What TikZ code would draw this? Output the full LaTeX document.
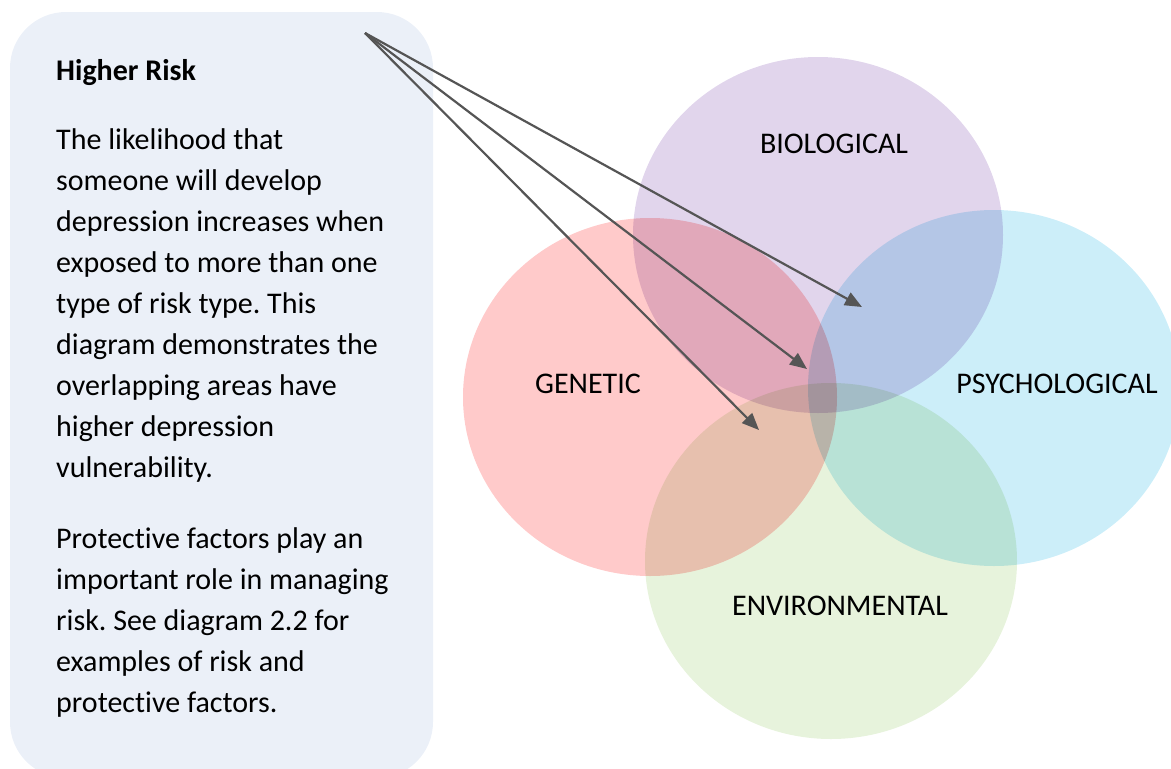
\documentclass[tikz,border=0pt]{standalone}
\usepackage{fontspec}
\setmainfont[Ligatures=CommonOff]{Carlito}
\frenchspacing
\usetikzlibrary{arrows.meta, positioning}
\definecolor{panelblue}{RGB}{235,240,248}
\definecolor{genpink}{RGB}{255,202,202}
\definecolor{biolilac}{RGB}{225,213,236}
\definecolor{psyblue}{RGB}{204,238,249}
\definecolor{envgreen}{RGB}{231,243,220}
\definecolor{arrowgray}{RGB}{85,85,85}

\begin{document}
\begin{tikzpicture}[x=1pt, y=-1pt,
  ptext/.style={font=\fontsize{30}{41}\selectfont, align=left, anchor=base west, inner sep=0pt},
  vlabel/.style={font=\fontsize{30}{36}\selectfont, anchor=base, inner sep=0pt},
  venn/.style={blend mode=multiply},
  riskarrow/.style={draw=arrowgray, line width=2.2pt, -{Triangle[length=17pt, width=14pt]}}
]
  \useasboundingbox (0,0) rectangle (1171,769);
  \clip (0,0) rectangle (1171,769);

  % side panel (multi-line nodes sit on their last baseline)
  \fill[panelblue, rounded corners=56pt] (10,12) rectangle (433,778);
  \node[ptext, font=\fontsize{30}{41}\selectfont\bfseries] (head) at (56,80) {Higher Risk};
  \node[ptext] (para1) at (56,477) {The likelihood that\\ someone will develop\\ depression increases when\\
    exposed to more than one\\ type of risk type. This\\ diagram demonstrates the\\ overlapping areas have\\
    higher depression\\ vulnerability.};
  \node[ptext] (para2) at (56,712) {Protective factors play an\\ important role in managing\\
    risk. See diagram 2.2 for\\ examples of risk and\\ protective factors.};

  % the four risk areas
  \fill[venn, genpink]  (650,397) ellipse [x radius=187pt, y radius=179pt];
  \fill[venn, biolilac] (818,235) ellipse [x radius=185pt, y radius=178pt];
  \fill[venn, psyblue]  (994,388) ellipse [x radius=186pt, y radius=178pt];
  \fill[venn, envgreen] (831,561) ellipse [x radius=186pt, y radius=178pt];

  \node[vlabel] (bio) at (834,153) {BIOLOGICAL};
  \node[vlabel] (gen) at (588,393) {GENETIC};
  \node[vlabel] (psy) at (1057,393) {PSYCHOLOGICAL};
  \node[vlabel] (env) at (840,615) {ENVIRONMENTAL};

  % arrows into the overlaps
  \coordinate (src) at (365,33);
  \coordinate (bioPsy) at (862,307);
  \coordinate (core) at (807,369);
  \coordinate (genEnv) at (759,430);
  \draw[riskarrow] (src) -- (bioPsy);
  \draw[riskarrow] (src) -- (core);
  \draw[riskarrow] (src) -- (genEnv);
\end{tikzpicture}
\end{document}
